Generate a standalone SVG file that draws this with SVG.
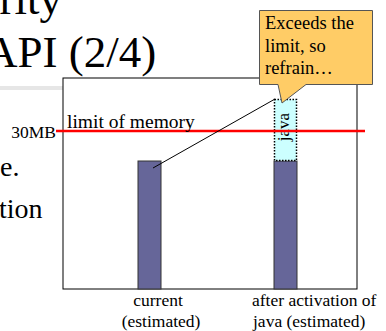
<svg xmlns="http://www.w3.org/2000/svg" width="386" height="331" viewBox="0 0 386 331">
<style>
text{font-family:'Liberation Serif','Times New Roman','DejaVu Serif',serif;fill:#000}
.bar{fill:#666699;stroke:#333;stroke-width:1}
</style>
<rect width="386" height="331" fill="#fff"/>
<g id="title">
<text x="-23" y="14" font-size="45">urity</text>
<text x="-15" y="67" font-size="45">API (2/4)</text>
</g>
<rect x="0" y="86" width="63" height="4" fill="#e6e6e6"/>
<g id="bodytext">
<text x="0" y="176" font-size="28">e.</text>
<text x="-1" y="218" font-size="28">tion</text>
</g>
<g id="chart">
<rect x="63" y="78" width="294" height="211" fill="#fff" stroke="#000" stroke-width="1"/>
</g>
<g id="bar-current">
<rect class="bar" x="138" y="161" width="23" height="128"/>
</g>
<g id="bar-after">
<rect class="bar" x="274" y="161" width="23" height="128"/>
</g>
<g id="java-box">
<rect x="274.5" y="99.5" width="22" height="61" fill="#ccffff" stroke="#000" stroke-width="1.5" stroke-dasharray="1.5,1.5"/>
<text font-size="17" text-anchor="middle" transform="translate(289,127) rotate(-90)">java</text>
</g>
<g id="limit">
<line x1="56" y1="131" x2="365" y2="131" stroke="#ff0000" stroke-width="2.5"/>
<text x="56" y="138" font-size="17.5" text-anchor="end">30MB</text>
<text x="67" y="128" font-size="19.5">limit of memory</text>
</g>
<g id="connectors">
<line x1="153" y1="168" x2="275" y2="99" stroke="#000" stroke-width="1"/>
</g>
<g id="callout">
<path d="M259.5,10.5 H372.5 V84.5 H306 L282,103 L278,84.5 H259.5 Z" fill="#ffcc66" stroke="#555" stroke-width="1"/>
<text font-size="18.5"><tspan x="265" y="29">Exceeds the</tspan><tspan x="265" y="52">limit, so</tspan><tspan x="265" y="74">refrain…</tspan></text>
</g>
<g id="labels">
<text font-size="17.5" text-anchor="middle"><tspan x="158" y="306">current</tspan><tspan x="161" y="327">(estimated)</tspan></text>
<text font-size="17.5"><tspan x="252" y="306">after activation of</tspan><tspan x="253" y="327">java (estimated)</tspan></text>
</g>
</svg>
